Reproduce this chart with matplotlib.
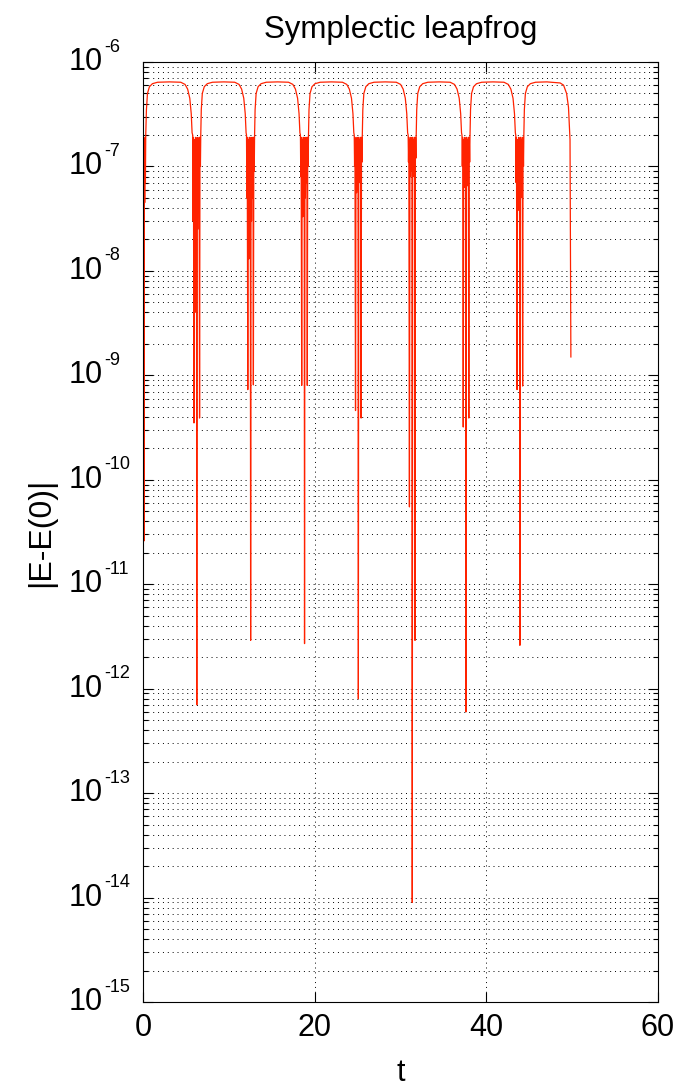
"""
Energy error of the symplectic leapfrog integrator, log scale.
"""

import numpy as np
import matplotlib
matplotlib.use("Agg")
import matplotlib.pyplot as plt
from matplotlib.ticker import LogLocator, FixedLocator, NullFormatter

# values, one stretch per dip (band + following hump)
t_start = [0.04, 0.08, 0.12, 0.16, 0.20, 0.24, 0.28, 0.32, 0.40, 0.52, 0.75, 1.10,
           1.70, 3.10, 4.40, 4.90, 5.20, 5.45, 5.62, 5.72]
e_start = [1.9e-7, 6e-8, 2.6e-11, 1.8e-7, 4.5e-8, 1.9e-7, 7e-8, 2.0e-7, 3.5e-7, 5.0e-7,
           5.8e-7, 6.2e-7, 6.4e-7, 6.45e-7, 6.4e-7, 6.1e-7, 5.5e-7, 4.5e-7, 3.2e-7, 2.1e-7]

t_dip1 = [5.79, 5.83, 5.87, 5.94, 6.00, 6.06, 6.12, 6.18, 6.23, 6.27, 6.32, 6.37, 6.43,
          6.49, 6.54, 6.59, 6.64, 6.69, 6.73, 6.79, 6.91, 7.14, 7.49, 8.09, 9.41, 10.69,
          11.19, 11.49, 11.74, 11.91, 12.01]
e_dip1 = [2.0e-7, 3e-8, 1.9e-7, 3.5e-10, 1.8e-7, 1.5e-8, 1.9e-7, 4e-9, 1.8e-7, 7e-13,
          1.9e-7, 2.5e-8, 1.8e-7, 6e-8, 1.9e-7, 3.9e-10, 1.9e-7, 1.0e-7, 2.0e-7,
          3.5e-7, 5.0e-7, 5.8e-7, 6.2e-7, 6.4e-7, 6.45e-7, 6.4e-7, 6.1e-7, 5.5e-7,
          4.5e-7, 3.2e-7, 2.1e-7]

t_dip2 = [12.06, 12.10, 12.14, 12.21, 12.27, 12.33, 12.39, 12.45, 12.50, 12.54, 12.59,
          12.64, 12.70, 12.76, 12.81, 12.86, 12.91, 12.96, 13.00, 13.06, 13.18, 13.41,
          13.76, 14.36, 15.68, 16.96, 17.46, 17.76, 18.01, 18.18, 18.28]
e_dip2 = [2.0e-7, 5e-8, 1.9e-7, 7.3e-10, 1.8e-7, 1.3e-8, 1.9e-7, 2e-8, 1.8e-7, 2.9e-12,
          1.9e-7, 3e-8, 1.8e-7, 5e-8, 1.9e-7, 8.1e-10, 1.9e-7, 9e-8, 2.0e-7,
          3.5e-7, 5.0e-7, 5.8e-7, 6.2e-7, 6.4e-7, 6.45e-7, 6.4e-7, 6.1e-7, 5.5e-7,
          4.5e-7, 3.2e-7, 2.1e-7]

t_dip3 = [18.34, 18.38, 18.42, 18.49, 18.55, 18.61, 18.67, 18.73, 18.78, 18.82, 18.87,
          18.92, 18.98, 19.04, 19.09, 19.14, 19.19, 19.24, 19.28, 19.34, 19.46, 19.69,
          20.04, 20.64, 21.96, 23.24, 23.74, 24.04, 24.29, 24.46, 24.56]
e_dip3 = [2.0e-7, 8e-8, 1.9e-7, 8e-10, 1.8e-7, 3.3e-8, 1.9e-7, 4e-8, 1.8e-7, 2.7e-12,
          1.9e-7, 5e-8, 1.8e-7, 7e-8, 1.9e-7, 8e-10, 1.9e-7, 1.0e-7, 2.0e-7,
          3.5e-7, 5.0e-7, 5.8e-7, 6.2e-7, 6.4e-7, 6.45e-7, 6.4e-7, 6.1e-7, 5.5e-7,
          4.5e-7, 3.2e-7, 2.1e-7]

t_dip4 = [24.61, 24.65, 24.69, 24.76, 24.82, 24.88, 24.94, 25.00, 25.05, 25.09, 25.14,
          25.19, 25.25, 25.31, 25.36, 25.41, 25.46, 25.51, 25.55, 25.61, 25.73, 25.96,
          26.31, 26.91, 28.23, 29.51, 30.01, 30.31, 30.56, 30.73, 30.83]
e_dip4 = [2.0e-7, 1.0e-7, 1.9e-7, 4.6e-10, 1.8e-7, 5.6e-8, 1.9e-7, 6e-8, 1.8e-7, 8e-13,
          1.9e-7, 7e-8, 1.8e-7, 9e-8, 1.9e-7, 3.9e-10, 1.9e-7, 1.1e-7, 2.0e-7,
          3.5e-7, 5.0e-7, 5.8e-7, 6.2e-7, 6.4e-7, 6.45e-7, 6.4e-7, 6.1e-7, 5.5e-7,
          4.5e-7, 3.2e-7, 2.1e-7]

t_dip5 = [30.89, 30.93, 30.97, 31.04, 31.10, 31.16, 31.22, 31.28, 31.33, 31.37, 31.42,
          31.47, 31.53, 31.59, 31.64, 31.69, 31.74, 31.79, 31.83, 31.89, 32.01, 32.24,
          32.59, 33.19, 34.51, 35.79, 36.29, 36.59, 36.84, 37.01, 37.11]
e_dip5 = [2.0e-7, 1.1e-7, 1.9e-7, 5.5e-11, 1.8e-7, 8e-8, 1.9e-7, 9e-8, 1.8e-7, 9e-15,
          1.9e-7, 8e-8, 1.8e-7, 1.0e-7, 1.9e-7, 2.9e-12, 1.9e-7, 1.2e-7, 2.0e-7,
          3.5e-7, 5.0e-7, 5.8e-7, 6.2e-7, 6.4e-7, 6.45e-7, 6.4e-7, 6.1e-7, 5.5e-7,
          4.5e-7, 3.2e-7, 2.1e-7]

t_dip6 = [37.16, 37.20, 37.24, 37.31, 37.37, 37.43, 37.49, 37.55, 37.60, 37.64, 37.69,
          37.74, 37.80, 37.86, 37.91, 37.96, 38.01, 38.06, 38.10, 38.16, 38.28, 38.51,
          38.86, 39.46, 40.78, 42.06, 42.56, 42.86, 43.11, 43.28, 43.38]
e_dip6 = [2.0e-7, 1.0e-7, 1.9e-7, 3.2e-10, 1.8e-7, 6.3e-8, 1.9e-7, 7e-8, 1.8e-7, 6e-13,
          1.9e-7, 6.5e-8, 1.8e-7, 9e-8, 1.9e-7, 3.9e-10, 1.9e-7, 1.1e-7, 2.0e-7,
          3.5e-7, 5.0e-7, 5.8e-7, 6.2e-7, 6.4e-7, 6.45e-7, 6.4e-7, 6.1e-7, 5.5e-7,
          4.5e-7, 3.2e-7, 2.1e-7]

t_dip7 = [43.43, 43.47, 43.51, 43.58, 43.64, 43.70, 43.76, 43.82, 43.87, 43.91, 43.96,
          44.01, 44.07, 44.13, 44.18, 44.23, 44.28, 44.33, 44.37, 44.43, 44.55, 44.78,
          45.13, 45.73, 47.05, 48.60, 49.00, 49.35, 49.57, 49.75, 49.85]
e_dip7 = [2.0e-7, 7e-8, 1.9e-7, 7.3e-10, 1.8e-7, 3.8e-8, 1.9e-7, 4.5e-8, 1.8e-7, 2.6e-12,
          1.9e-7, 5e-8, 1.8e-7, 8e-8, 1.9e-7, 7.9e-10, 1.9e-7, 1.0e-7, 2.0e-7,
          3.5e-7, 5.0e-7, 5.8e-7, 6.2e-7, 6.4e-7, 6.45e-7, 6.3e-7, 6.0e-7, 5.0e-7,
          3.7e-7, 1.8e-7, 1.5e-9]

X_TICKS = [0, 20, 40, 60]
Y_DECADES = [-15, -14, -13, -12, -11, -10, -9, -8, -7, -6]

plt.rcParams["font.family"] = ["Liberation Sans", "DejaVu Sans"]

t = np.concatenate([t_start, t_dip1, t_dip2, t_dip3, t_dip4, t_dip5, t_dip6, t_dip7])
err = np.concatenate([e_start, e_dip1, e_dip2, e_dip3, e_dip4, e_dip5, e_dip6, e_dip7])

fig = plt.figure(figsize=(6.79, 10.87), dpi=100)
ax = fig.add_axes([143 / 679, 85 / 1087, 515 / 679, 940 / 1087])

ax.plot(t, err, color="#ff2200", lw=0.9)

ax.set_yscale("log")
ax.set_xlim(0, 60)
ax.set_ylim(1e-15, 1e-6)

ax.xaxis.set_major_locator(FixedLocator(X_TICKS))
ax.set_xticklabels([str(v) for v in X_TICKS])
ax.yaxis.set_major_locator(FixedLocator([10.0 ** d for d in Y_DECADES]))
ax.yaxis.set_major_formatter(NullFormatter())
ax.yaxis.set_minor_locator(LogLocator(base=10, subs=range(2, 10), numticks=30))
ax.yaxis.set_minor_formatter(NullFormatter())

# matlab style "10" with a raised, short-hyphen exponent
for d in Y_DECADES:
    ax.annotate("10", xy=(0, 10.0 ** d), xycoords=("axes fraction", "data"),
                xytext=(-29, 0), textcoords="offset points",
                ha="right", va="center", fontsize=22)
    ax.annotate(str(d), xy=(0, 10.0 ** d), xycoords=("axes fraction", "data"),
                xytext=(-28, 7.5), textcoords="offset points",
                ha="left", va="baseline", fontsize=13)

grid_style = dict(color="black", lw=0.7, linestyle=(0, (1, 4)))
ax.grid(which="major", axis="both", **grid_style)
ax.grid(which="minor", axis="y", **grid_style)

ax.tick_params(which="both", direction="in", top=True, right=True,
               width=0.8, color="black")
ax.tick_params(axis="x", labelsize=22, pad=8)
ax.tick_params(which="major", length=7)
ax.tick_params(which="minor", length=3.5)
for sp in ax.spines.values():
    sp.set_linewidth(0.8)

ax.set_xlabel("t", fontsize=22, labelpad=11)
ax.set_ylabel("|E-E(0)|", fontsize=23, labelpad=59)
ax.set_title("Symplectic leapfrog", fontsize=22.5, pad=17)

fig.savefig("out.png", dpi=100)
